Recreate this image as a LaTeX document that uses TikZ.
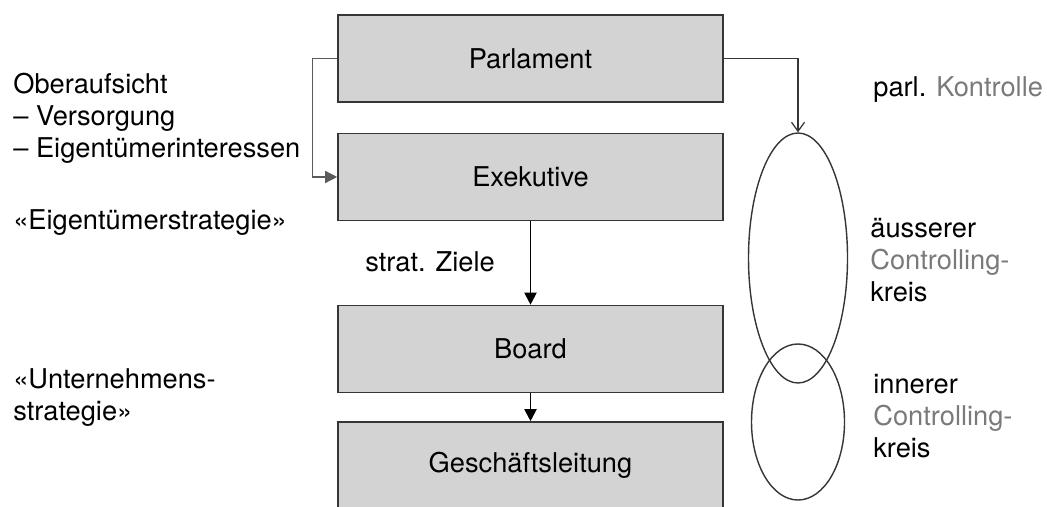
\documentclass[tikz,border=0pt]{standalone}
\usepackage{fontspec}
\setmainfont{TeX Gyre Heros}
\usetikzlibrary{positioning,arrows.meta,shapes.geometric}
\definecolor{gvgrau}{HTML}{D3D3D3}
\definecolor{gvlinie}{HTML}{363636}
\definecolor{gvtextgrau}{HTML}{7A7A7A}
\definecolor{gvpfeilgrau}{HTML}{5A5A5A}
\tikzset{
  gvkasten/.style={draw=gvlinie, fill=gvgrau, line width=0.9pt, minimum width=7.7cm,
                  minimum height=1.74cm, inner sep=0pt, font=\gvschrift},
  gvpfeil/.style={-{Triangle[length=2.4mm,width=2.4mm]}, line width=1.1pt, draw=black},
  gvpfeilgrau/.style={-{Triangle[length=2.4mm,width=2.4mm]}, line width=0.8pt, draw=gvpfeilgrau},
  gvpfeiloffen/.style={-{Straight Barb[length=1.8mm,width=2.6mm]}, line width=0.7pt, draw=gvlinie},
  gvkreis/.style={draw=gvlinie, ellipse, line width=0.8pt, inner sep=0pt},
  gvnotiz/.style={font=\gvschrift, align=left, anchor=west, inner sep=0pt},
}
\newcommand{\gvschrift}{\fontsize{15.5pt}{18.2pt}\selectfont}

\begin{document}
\begin{tikzpicture}
    \useasboundingbox (0,0) rectangle (20.94,-10.14);
    \clip (0,0) rectangle (20.94,-10.14);
    % Hierarchie
    \node[gvkasten] (parl) at (10.61,-1.17) {Parlament};
    \node[gvkasten] (exek) at (10.61,-3.54) {Exekutive};
    \node[gvkasten] (board) at (10.61,-6.98) {Board};
    \node[gvkasten] (gl) at (10.61,-9.31) {Geschäftsleitung};
    \draw[gvpfeilgrau] (parl.west) -- ++(-0.5,0) |- (exek.west);
    \draw[gvpfeil] (exek.south) -- (board.north);
    \draw[gvpfeil] (board.south) -- (gl.north);
    \node[gvnotiz] (ziele) at (7.3,-5.24) {strat. Ziele};
    % Controllingkreise
    \node[gvkreis, minimum width=1.98cm, minimum height=5cm] (aussen) at (15.96,-5.16) {};
    \node[gvkreis, minimum width=1.86cm, minimum height=3.12cm] (innen) at (15.96,-8.44) {};
    \draw[gvpfeiloffen] (parl.east) -| (aussen.north);
    % Beschriftungen links
    \node[gvnotiz] (aufsicht) at (0.26,-2.36) {Oberaufsicht\\-- Versorgung\\-- Eigentümerinteressen};
    \node[gvnotiz] (eigstrat) at (0.26,-4.46) {«Eigentümerstrategie»};
    \node[gvnotiz] (unstrat) at (0.26,-7.96) {«Unternehmens-\\strategie»};
    % Beschriftungen rechts
    \node[gvnotiz] (kontrolle) at (17.46,-1.8) {parl. \textcolor{gvtextgrau}{Kontrolle}};
    \node[gvnotiz] (aeusserer) at (17.4,-5.2) {äusserer\\\textcolor{gvtextgrau}{Controlling-}\\kreis};
    \node[gvnotiz] (innerer) at (17.46,-8.32) {innerer\\\textcolor{gvtextgrau}{Controlling-}\\kreis};
\end{tikzpicture}
\end{document}
